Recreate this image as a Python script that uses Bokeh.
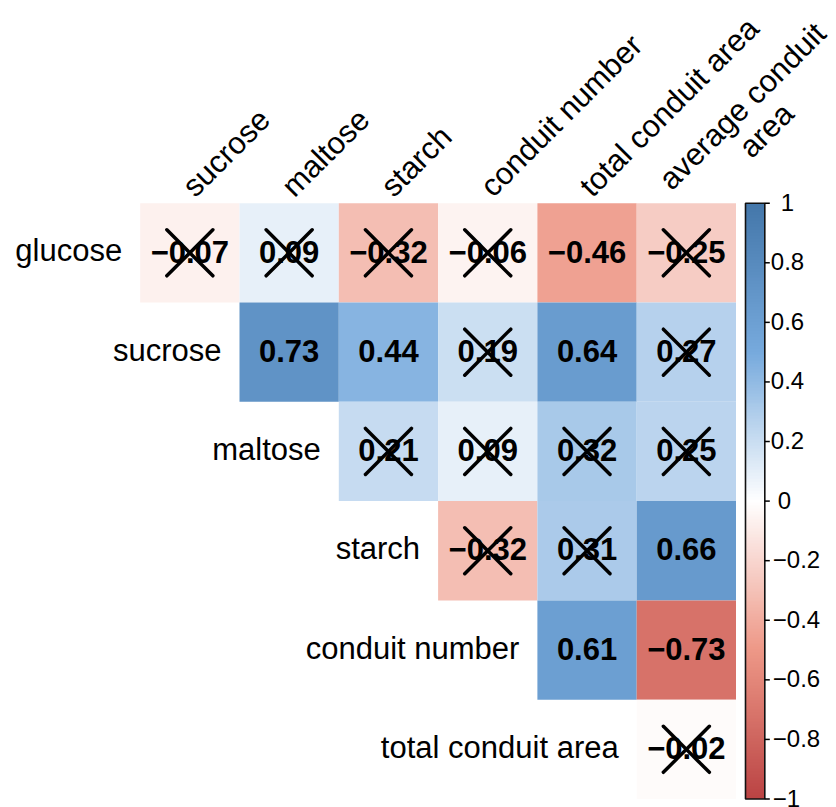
import numpy as np
from bokeh.plotting import figure
from bokeh.models import ColumnDataSource, LinearColorMapper, Range1d
from bokeh.core.properties import value
from bokeh.embed import file_html
from bokeh.resources import INLINE

# ---------------- data ----------------
row_vars = ["glucose", "sucrose", "maltose", "starch", "conduit number", "total conduit area"]
col_vars = ["sucrose", "maltose", "starch", "conduit number", "total conduit area", "average conduit area"]
col_label_lines = [["sucrose"], ["maltose"], ["starch"], ["conduit number"],
                   ["total conduit area"], ["average conduit", "area"]]

corr_glucose = [-0.07, 0.09, -0.32, -0.06, -0.46, -0.25]
corr_sucrose = [0.73, 0.44, 0.19, 0.64, 0.27]
corr_maltose = [0.21, 0.09, 0.32, 0.25]
corr_starch = [-0.32, 0.31, 0.66]
corr_conduit_number = [0.61, -0.73]
corr_total_conduit_area = [-0.02]

insig_glucose = [True, True, True, True, False, True]
insig_sucrose = [False, False, True, False, True]
insig_maltose = [True, True, True, True]
insig_starch = [True, True, False]
insig_conduit_number = [False, False]
insig_total_conduit_area = [True]

legend_ticks = [1, 0.8, 0.6, 0.4, 0.2, 0, -0.2, -0.4, -0.6, -0.8, -1]
legend_labels = ["1", "0.8", "0.6", "0.4", "0.2", "0",
                 "\u22120.2", "\u22120.4", "\u22120.6", "\u22120.8", "\u22121"]

palette_anchors = ["#BB4444", "#EE9988", "#FFFFFF", "#77AADD", "#4477AA"]

corr_rows = [corr_glucose, corr_sucrose, corr_maltose, corr_starch,
             corr_conduit_number, corr_total_conduit_area]
insig_rows = [insig_glucose, insig_sucrose, insig_maltose, insig_starch,
              insig_conduit_number, insig_total_conduit_area]

# ---------------- palette ----------------
def hex2rgb(h):
    h = h.lstrip("#")
    return [int(h[i:i + 2], 16) for i in (0, 2, 4)]

anc = np.array([hex2rgb(c) for c in palette_anchors], dtype=float)
pos = np.linspace(0, 1, len(palette_anchors))
t = np.linspace(0, 1, 201)
palette = []
for tt in t:
    rgb = [int(round(np.interp(tt, pos, anc[:, k]))) for k in range(3)]
    palette.append("#%02x%02x%02x" % tuple(rgb))
mapper = LinearColorMapper(palette=palette, low=-1, high=1)

# ---------------- layout ----------------
W, H = 836, 807
C = 99.3                 # pixels per cell
GX, GY = 139.7, 202.7    # grid top-left in pixels
n = len(row_vars)
x0 = -GX / C
y1 = n + GY / C

p = figure(width=W, height=H, output_backend="svg", toolbar_location=None,
           x_range=Range1d(x0, x0 + W / C), y_range=Range1d(y1 - H / C, y1),
           x_axis_location=None, y_axis_location=None, min_border=0,
           outline_line_color=None, background_fill_color="white")
p.grid.visible = False

FONT = value("Liberation Sans")

# ---------------- cells ----------------
xs, ys, rs, labels, cx0, cy0, cx1, cy1, dx0, dy0, dx1, dy1 = ([] for _ in range(12))
h = 23.0 / C
for r, (vals, ins) in enumerate(zip(corr_rows, insig_rows)):
    for k, v in enumerate(vals):
        j = r + k
        xc, yc = j + 0.5, n - 0.5 - r
        xs.append(xc); ys.append(yc); rs.append(v)
        labels.append(("%.2f" % v).replace("-", "\u2212"))
        if ins[k]:
            cx0.append(xc - h); cy0.append(yc + h); cx1.append(xc + h); cy1.append(yc - h)
            dx0.append(xc - h); dy0.append(yc - h); dx1.append(xc + h); dy1.append(yc + h)

src = ColumnDataSource(dict(x=xs, y=ys, r=rs, label=labels,
                            ty=[yy + 1.3 / C for yy in ys]))
p.rect(x="x", y="y", width=1, height=1, source=src,
       fill_color={"field": "r", "transform": mapper}, line_color=None)
p.text(x="x", y="ty", text="label", source=src, text_font=FONT,
       text_font_size="31px", text_font_style="bold", text_align="center",
       text_baseline="middle", text_color="black")
p.segment(x0=cx0 + dx0, y0=cy0 + dy0, x1=cx1 + dx1, y1=cy1 + dy1,
          line_color="black", line_width=3.5, line_cap="round")

# ---------------- row labels ----------------
p.text(x=[r - 18.0 / C for r in range(n)],
       y=[n - 0.5 - r + 2.0 / C for r in range(n)],
       text=row_vars, text_font=FONT, text_font_size="31px",
       text_align="right", text_baseline="middle", text_color="black")

# ---------------- column labels ----------------
lx, ly, lt = [], [], []
for j, lines in enumerate(col_label_lines):
    if len(lines) == 1:
        lx.append(j + 0.5 - 2.0 / C); ly.append(n + 12.0 / C); lt.append(lines[0])
    else:
        lx.append(j + 0.5 - 22.0 / C); ly.append(n + 19.0 / C); lt.append(lines[0])
        lx.append(j + 0.5 + 58.0 / C); ly.append(n + 51.0 / C); lt.append(lines[1])
p.text(x=lx, y=ly, text=lt, angle=np.pi / 4, text_font=FONT,
       text_font_size="31px", text_align="left", text_baseline="alphabetic",
       text_color="black")

# ---------------- colour legend ----------------
bl = n + 9.5 / C
br = bl + 19.3 / C
grad = np.linspace(-1, 1, 400).reshape(-1, 1)
p.image(image=[grad], x=bl, y=0, dw=br - bl, dh=n, color_mapper=mapper)
p.quad(left=[bl], right=[br], bottom=[0], top=[n], fill_alpha=0,
       line_color="#111111", line_width=1.6)
tick_y = [(tv + 1) / 2 * n for tv in legend_ticks]
p.segment(x0=[br] * len(tick_y), y0=tick_y, x1=[br + 5.0 / C] * len(tick_y), y1=tick_y,
          line_color="black", line_width=1.5)
lab_off = [10 if lab == "1" else (7 if lab == "0" else (2 if lab.startswith("\u2212") else 0))
           for lab in legend_labels]
p.text(x=[br + 6.0 / C] * len(tick_y), y=[yy + 1.0 / C for yy in tick_y],
       text=legend_labels, x_offset=lab_off, text_font=FONT, text_font_size="24px",
       text_align="left", text_baseline="middle", text_color="black")

open("out.html", "w").write(file_html(p, INLINE))
